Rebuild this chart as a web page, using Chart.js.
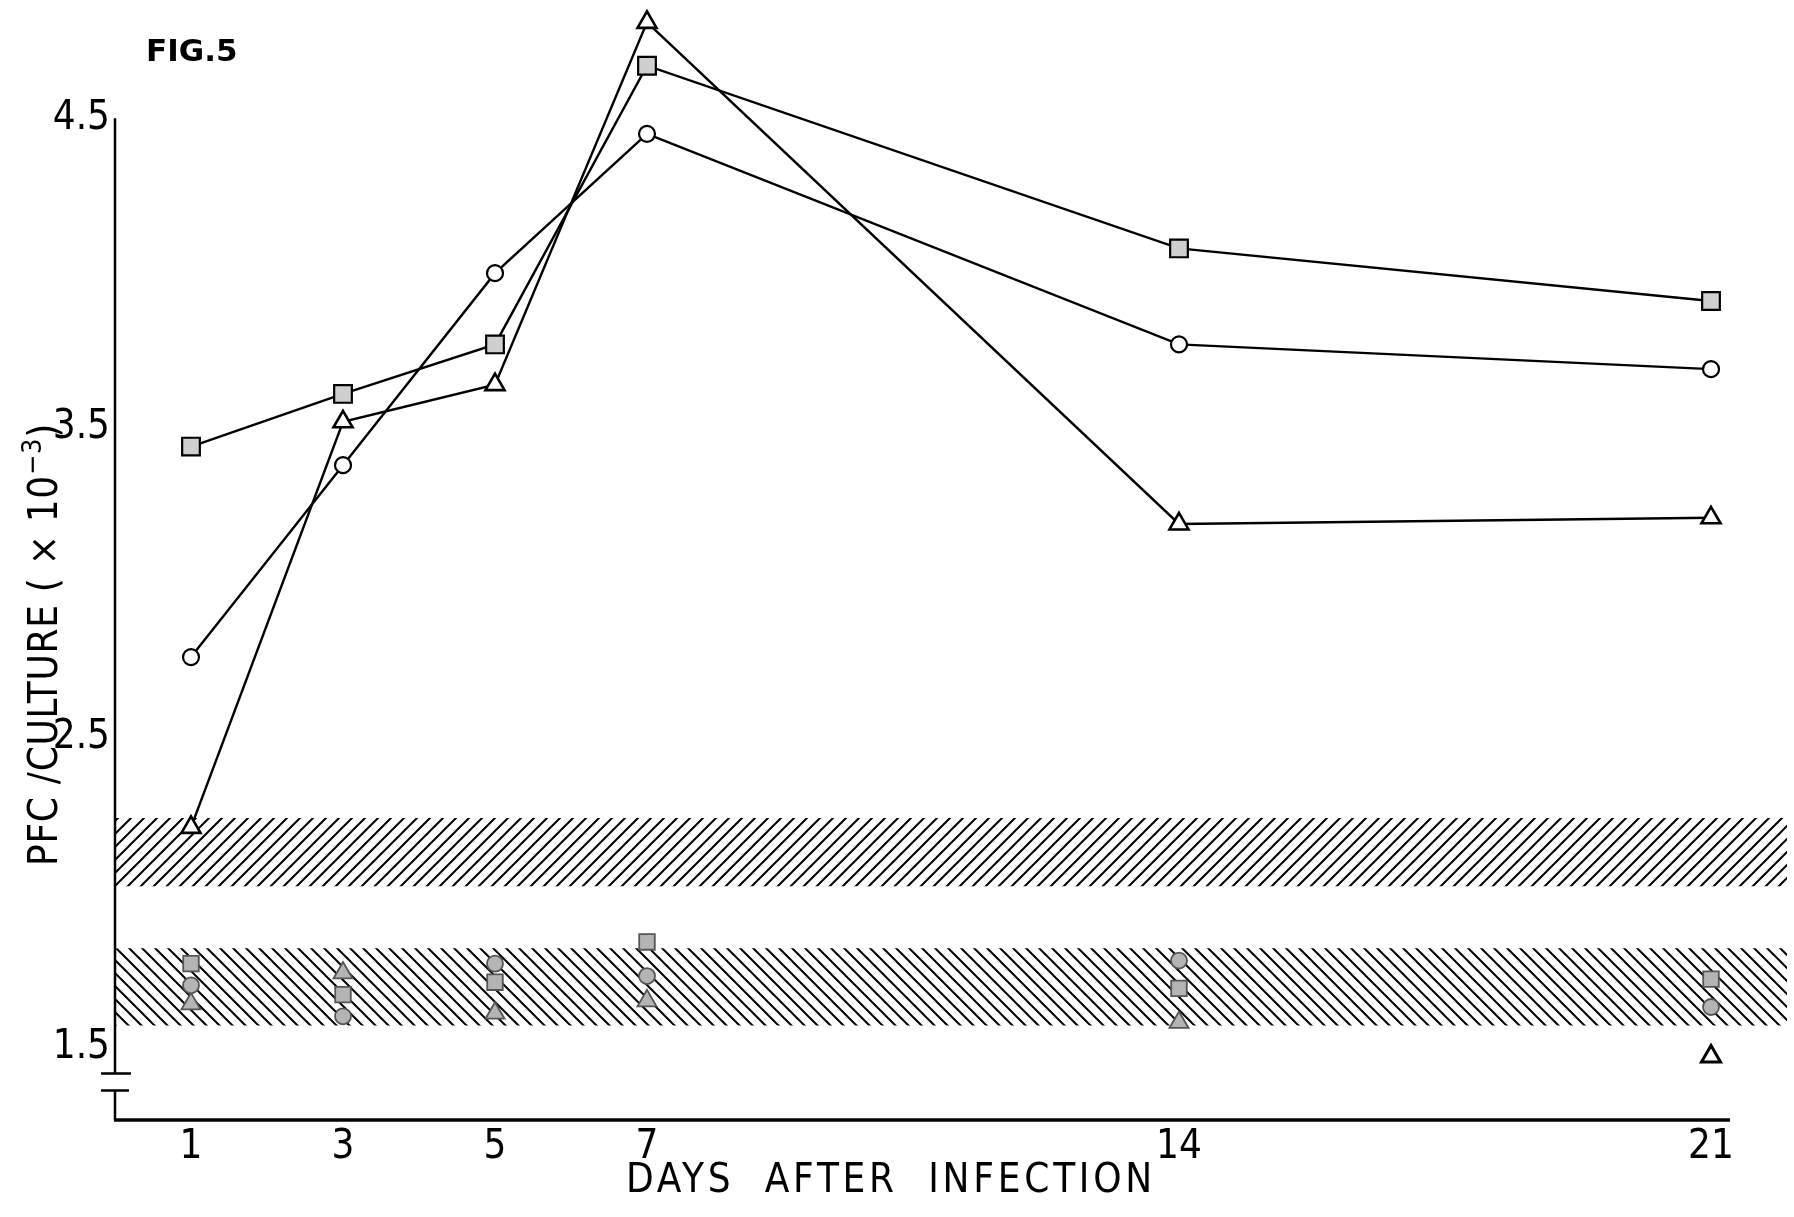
<!DOCTYPE html>
<html>
<head>
<meta charset="utf-8">
<script src="https://cdn.jsdelivr.net/npm/chart.js@4.4.1/dist/chart.umd.min.js"></script>
<style>
  html, body { margin: 0; padding: 0; background: #fff; }
  #wrap { position: relative; width: 1794px; height: 1217px; }
</style>
</head>
<body>
<div id="wrap"><canvas id="myChart" width="1794" height="1217"></canvas></div>
<script>
// Days after infection
const days = [1, 3, 5, 7, 14, 21];
const xTicks = [1, 3, 5, 7, 14, 21];
const yTicks = [1.5, 2.5, 3.5, 4.5];

// PFC / culture (x 10^-3), one array per marker type
const squareSeries = [3.44, 3.61, 3.77, 4.67, 4.08, 3.91];
const circleSeries = [2.76, 3.38, 4.00, 4.45, 3.77, 3.69];
const triangleSeries = [2.21, 3.52, 3.64, 4.81, 3.19, 3.21];

// control values (the grey markers in the lower band)
const ctrlSquare = [1.77, 1.67, 1.71, 1.84, 1.69, 1.72];
const ctrlCircle = [1.70, 1.60, 1.77, 1.73, 1.78, 1.63];
const ctrlTriangle = [1.64, 1.74, 1.61, 1.65, 1.58, 1.47];

// hatched ranges [bottom, top] and their x extent
const upperBand = [2.02, 2.24];
const lowerBand = [1.57, 1.82];
const bandSpan = [0, 22];

const FONT = '"DejaVu Sans Condensed", "Liberation Sans", sans-serif';

const pts = vals => vals.map((v, i) => ({ x: days[i], y: v }));
const flat = v => bandSpan.map(x => ({ x, y: v }));

// diagonal hatch pattern, '/' or '\'
const makeHatch = dir => {
    const s = 13;
    const c = document.createElement('canvas');
    c.width = s; c.height = s;
    const g = c.getContext('2d');
    g.strokeStyle = '#000';
    g.lineWidth = 2;
    g.beginPath();
    if (dir === '/') {
        g.moveTo(-2, s + 2); g.lineTo(s + 2, -2);
        g.moveTo(-2, 2); g.lineTo(2, -2);
        g.moveTo(s - 2, s + 2); g.lineTo(s + 2, s - 2);
    } else {
        g.moveTo(-2, -2); g.lineTo(s + 2, s + 2);
        g.moveTo(s - 2, -2); g.lineTo(s + 2, 2);
        g.moveTo(-2, s - 2); g.lineTo(2, s + 2);
    }
    g.stroke();
    return g.createPattern(c, 'repeat');
};

const seriesLine = (data, style, radius, fill, bw) => ({
    data: pts(data),
    showLine: true,
    borderColor: '#000',
    borderWidth: 2.4,
    pointStyle: style,
    pointRadius: radius,
    pointBackgroundColor: fill,
    pointBorderColor: '#000',
    pointBorderWidth: bw,
    clip: false
});

const isLow = ctx => ctx.raw && ctx.raw.y < lowerBand[0];

const ctrlPoints = (data, style, radius) => ({
    data: pts(data),
    showLine: false,
    pointStyle: style,
    pointRadius: radius,
    pointBackgroundColor: ctx => isLow(ctx) ? '#fff' : '#b4b4b4',
    pointBorderColor: ctx => isLow(ctx) ? '#000' : '#555',
    pointBorderWidth: ctx => isLow(ctx) ? 3 : 1.8,
    clip: false
});

const bandEdge = (v, pattern) => ({
    data: flat(v),
    showLine: true,
    borderWidth: 0,
    borderColor: 'rgba(0,0,0,0)',
    pointRadius: 0,
    fill: pattern ? '-1' : false,
    backgroundColor: pattern || 'rgba(0,0,0,0)'
});

// axes, axis break and texts
const frame = {
    id: 'frame',
    afterDraw(chart) {
        const { ctx, scales: { x, y } } = chart;
        const ax = x.getPixelForValue(x.min);
        const bottom = y.getPixelForValue(y.min);
        const top = y.getPixelForValue(yTicks[yTicks.length - 1]);
        const brk1 = y.getPixelForValue(1.415);
        const brk2 = y.getPixelForValue(1.36);
        ctx.save();
        ctx.strokeStyle = '#000';
        ctx.lineCap = 'butt';

        // y axis with break
        ctx.lineWidth = 2.5;
        ctx.beginPath();
        ctx.moveTo(ax, top); ctx.lineTo(ax, brk1);
        ctx.moveTo(ax - 14, brk1); ctx.lineTo(ax + 16, brk1);
        ctx.moveTo(ax - 14, brk2); ctx.lineTo(ax + 14, brk2);
        ctx.moveTo(ax, brk2); ctx.lineTo(ax, bottom);
        ctx.stroke();

        // x axis
        ctx.lineWidth = 3.5;
        ctx.beginPath();
        ctx.moveTo(ax - 1, bottom);
        ctx.lineTo(x.getPixelForValue(21.25), bottom);
        ctx.stroke();

        ctx.fillStyle = '#000';

        // figure label
        ctx.font = 'bold 31px "DejaVu Sans", sans-serif';
        ctx.textAlign = 'left';
        ctx.textBaseline = 'middle';
        ctx.fillText('FIG.5', 146, 53);

        // x title
        ctx.font = '40px ' + FONT;
        const xt = 'DAYS  AFTER  INFECTION';
        const xw = ctx.measureText(xt).width;
        ctx.letterSpacing = ((530 - xw) / xt.length).toFixed(2) + 'px';
        ctx.textAlign = 'left';
        ctx.fillText(xt, 626, 1182);
        ctx.letterSpacing = '0px';

        // y title, rotated, with superscript
        const parts = [
            ['PFC /CULTURE ( \u00d7 10', '40px ' + FONT, 0],
            ['\u22123', '27px ' + FONT, -13],
            [')', '40px ' + FONT, 0]
        ];
        let natural = 0, nChars = 0;
        parts.forEach(p => { ctx.font = p[1]; natural += ctx.measureText(p[0]).width; nChars += p[0].length; });
        const sp = (443 - natural) / nChars;
        ctx.translate(47, 866);
        ctx.rotate(-Math.PI / 2);
        ctx.letterSpacing = sp.toFixed(2) + 'px';
        let cx = 0;
        parts.forEach(p => {
            ctx.font = p[1];
            ctx.fillText(p[0], cx, p[2]);
            cx += ctx.measureText(p[0]).width;
        });
        ctx.restore();
    }
};

const ctx = document.getElementById('myChart').getContext('2d');

const chart = new Chart(ctx, {
    type: 'scatter',
    data: {
        datasets: [
            seriesLine(triangleSeries, 'triangle', 11, '#fff', 2.6),
            seriesLine(squareSeries, 'rect', 12.5, '#cfcfcf', 2.2),
            seriesLine(circleSeries, 'circle', 8, '#fff', 2.2),
            ctrlPoints(ctrlSquare, 'rect', 11),
            ctrlPoints(ctrlCircle, 'circle', 8),
            ctrlPoints(ctrlTriangle, 'triangle', 11),
            bandEdge(upperBand[1]),
            bandEdge(upperBand[0], makeHatch('/')),
            bandEdge(lowerBand[1]),
            bandEdge(lowerBand[0], makeHatch('\\'))
        ]
    },
    options: {
        responsive: false,
        animation: false,
        devicePixelRatio: 1,
        layout: { autoPadding: false, padding: { top: 10, right: 7, bottom: 0, left: 0 } },
        plugins: {
            legend: { display: false },
            tooltip: { enabled: false }
        },
        scales: {
            x: {
                type: 'linear',
                min: 0,
                max: 22,
                grid: { display: false, drawTicks: false },
                border: { display: false },
                ticks: {
                    color: '#000',
                    font: { family: FONT, size: 40 },
                    padding: 4,
                    callback: v => String(v)
                },
                afterBuildTicks: s => { s.ticks = xTicks.map(value => ({ value })); },
                afterFit: s => { s.height = 97; s.paddingLeft = 0; s.paddingRight = 0; }
            },
            y: {
                type: 'linear',
                min: 1.265,
                max: 4.85,
                grid: { display: false, drawTicks: false },
                border: { display: false },
                ticks: {
                    color: '#000',
                    font: { family: FONT, size: 40 },
                    padding: 5,
                    callback: v => v.toFixed(1)
                },
                afterBuildTicks: s => { s.ticks = yTicks.map(value => ({ value })); },
                afterFit: s => { s.width = 115; s.paddingTop = 0; s.paddingBottom = 0; }
            }
        }
    },
    plugins: [frame]
});
</script>
</body>
</html>
